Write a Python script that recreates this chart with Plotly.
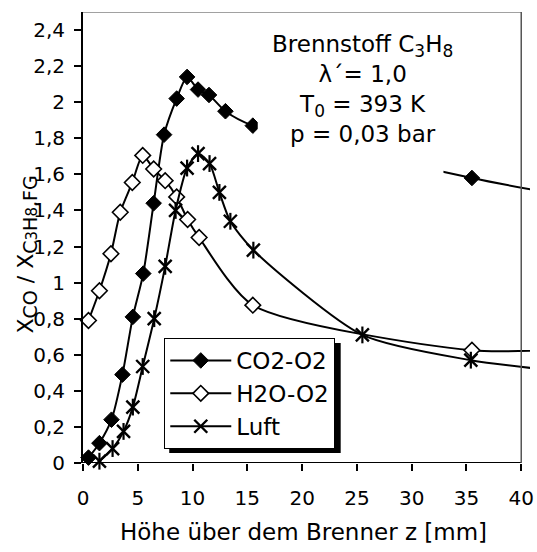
import plotly.graph_objects as go

# Höhe über dem Brenner z [mm] und Verhältnis x_CO / x_C3H8,FG
z_co2 = [0.5, 1.5, 2.6, 3.6, 4.55, 5.5, 6.45, 7.4, 8.55, 9.5, 10.5, 11.5, 13.0, 15.5, 35.5, 45.0]
co2_o2 = [0.03, 0.11, 0.24, 0.49, 0.81, 1.05, 1.44, 1.82, 2.02, 2.14, 2.07, 2.04, 1.95, 1.87, 1.58, 1.47]

z_h2o = [0.5, 1.5, 2.55, 3.4, 4.5, 5.45, 6.45, 7.5, 8.55, 9.55, 10.6, 15.5, 35.5, 45.0]
h2o_o2 = [0.79, 0.955, 1.16, 1.39, 1.555, 1.705, 1.63, 1.565, 1.475, 1.35, 1.25, 0.875, 0.625, 0.635]

z_luft = [1.5, 2.7, 3.7, 4.55, 5.45, 6.5, 7.5, 8.45, 9.5, 10.5, 11.55, 12.45, 13.45, 15.55, 25.5, 35.4, 45.0]
luft = [0.01, 0.08, 0.175, 0.31, 0.535, 0.80, 1.09, 1.40, 1.635, 1.715, 1.66, 1.50, 1.34, 1.18, 0.71, 0.57, 0.50]

x_tick_values = [0, 5, 10, 15, 20, 25, 30, 35, 40]
x_tick_labels = ["0", "5", "10", "15", "20", "25", "30", "35", "40"]
y_tick_values = [0, 0.2, 0.4, 0.6, 0.8, 1.0, 1.2, 1.4, 1.6, 1.8, 2.0, 2.2, 2.4]
y_tick_labels = ["0", "0,2", "0,4", "0,6", "0,8", "1", "1,2", "1,4", "1,6", "1,8", "2", "2,2", "2,4"]

FONT = "DejaVu Sans"
X_MAX = 40.8
Y_MAX = 2.5
X_FRAME = 40


def px_x(px):
    """Horizontal pixel position -> paper fraction of the 451 px plot width."""
    return (px - 83) / 451


def px_y(py):
    """Vertical pixel position -> paper fraction of the 451 px plot height."""
    return (463 - py) / 451


fig = go.Figure()

line_style = dict(color="black", width=2, shape="spline", smoothing=0.7)

fig.add_trace(go.Scatter(
    x=z_co2, y=co2_o2, name="CO2-O2", mode="lines+markers", legendgroup="a",
    line=line_style, cliponaxis=False,
    marker=dict(symbol="diamond", size=12, color="black", line=dict(color="black", width=1)),
))
fig.add_trace(go.Scatter(
    x=z_h2o, y=h2o_o2, name="H2O-O2", mode="lines+markers", legendgroup="b",
    line=line_style, cliponaxis=False,
    marker=dict(symbol="diamond", size=12, color="white", line=dict(color="black", width=1.6)),
))
fig.add_trace(go.Scatter(
    x=z_luft, y=luft, name="Luft", mode="lines+markers", legendgroup="c",
    line=line_style, cliponaxis=False,
    marker=dict(symbol="x-thin-open", size=13, color="black", line=dict(color="black", width=2.4)),
))
# vertical stroke of the star marker
fig.add_trace(go.Scatter(
    x=z_luft, y=luft, mode="markers", showlegend=False, legendgroup="c", cliponaxis=False,
    marker=dict(symbol="line-ns-open", size=12, color="black", line=dict(color="black", width=2.2)),
))

axis_common = dict(showgrid=False, zeroline=False, tickcolor="black", tickwidth=2,
                   tickfont=dict(family=FONT, size=20, color="black"),
                   ticklabeloverflow="allow")

fig.update_layout(
    width=537, height=552,
    margin=dict(l=83, r=3, t=12, b=89),
    paper_bgcolor="white", plot_bgcolor="white",
    font=dict(family=FONT, color="black"),
    showlegend=True,
    xaxis=dict(range=[0, X_MAX], tickvals=x_tick_values, ticktext=x_tick_labels,
               ticks="outside", ticklen=7, showline=False, ticklabelstandoff=10,
               **axis_common),
    yaxis=dict(range=[0, Y_MAX], tickvals=y_tick_values, ticktext=y_tick_labels,
               ticks="outside", ticklen=7, showline=True, linecolor="black", linewidth=2,
               ticklabelstandoff=5, **axis_common),
    xaxis2=dict(range=[0, X_MAX], tickvals=x_tick_values, ticks="inside", ticklen=6,
                overlaying="x", anchor="y2", showticklabels=False, showline=False,
                showgrid=False, zeroline=False, tickcolor="black", tickwidth=2),
    yaxis2=dict(range=[0, Y_MAX], tickvals=y_tick_values, ticks="inside", ticklen=6,
                overlaying="y", anchor="x2", showticklabels=False, showline=False,
                showgrid=False, zeroline=False, tickcolor="black", tickwidth=2),
    legend=dict(x=px_x(165), y=px_y(338), xanchor="left", yanchor="top",
                bgcolor="white", bordercolor="black", borderwidth=1,
                font=dict(family=FONT, size=23, color="black"),
                tracegroupgap=0, itemwidth=61),
)

# frame: x axis line up to 40, thin grey top and right edges
fig.add_shape(type="line", x0=0, x1=X_FRAME, y0=0, y1=0, xref="x", yref="y",
              line=dict(color="black", width=2))
fig.add_shape(type="line", x0=0, x1=X_FRAME, y0=Y_MAX, y1=Y_MAX, xref="x", yref="y",
              line=dict(color="#444444", width=1))
frame_right = X_FRAME / X_MAX
fig.add_shape(type="line", x0=frame_right, x1=frame_right, y0=0, y1=1,
              xref="paper", yref="paper", line=dict(color="#555555", width=1.5))

# white text field over the curves
fig.add_shape(type="rect", x0=15.95, x1=32.9, y0=1.6, y1=2.45, xref="x", yref="y",
              fillcolor="white", line=dict(width=0), layer="above")

# legend drop shadow
fig.add_shape(type="rect", xref="paper", yref="paper",
              x0=px_x(170), x1=px_x(343), y0=px_y(453), y1=px_y(343),
              fillcolor="black", line=dict(width=0), layer="above")

sub_size = "font-size:17px"
fig.add_annotation(
    text=(f"Brennstoff C<sub><span style='{sub_size}'>3</span></sub>"
          f"H<sub><span style='{sub_size}'>8</span></sub><br>λ´= 1,0<br>"
          f"T<sub><span style='{sub_size}'>0</span></sub> = 393 K<br>p = 0,03 bar"),
    x=25.5, y=px_y(89), xref="x", yref="paper", showarrow=False,
    xanchor="center", yanchor="middle", align="center",
    font=dict(family=FONT, size=23, color="black"),
)
fig.add_annotation(
    text="Höhe über dem Brenner z [mm]",
    x=20.1, y=px_y(532), xref="x", yref="paper", showarrow=False,
    xanchor="center", yanchor="middle",
    font=dict(family=FONT, size=23, color="black"),
)

big = "font-size:19px"
small = "font-size:15px"
y_title = (
    f"X<sub><span style='{big}'>CO</span></sub> / "
    f"X<sub><span style='{big}'>C</span><span style='{small}'>3</span>"
    f"<span style='{big}'>H</span><span style='{small}'>8</span>"
    f"<span style='{big}'>,FG</span></sub>"
)
fig.add_annotation(
    text=y_title,
    x=px_x(26), y=px_y(255), xref="paper", yref="paper", showarrow=False,
    xanchor="center", yanchor="middle", textangle=-90,
    font=dict(family=FONT, size=22, color="black"),
)

fig.write_html("out.html")
